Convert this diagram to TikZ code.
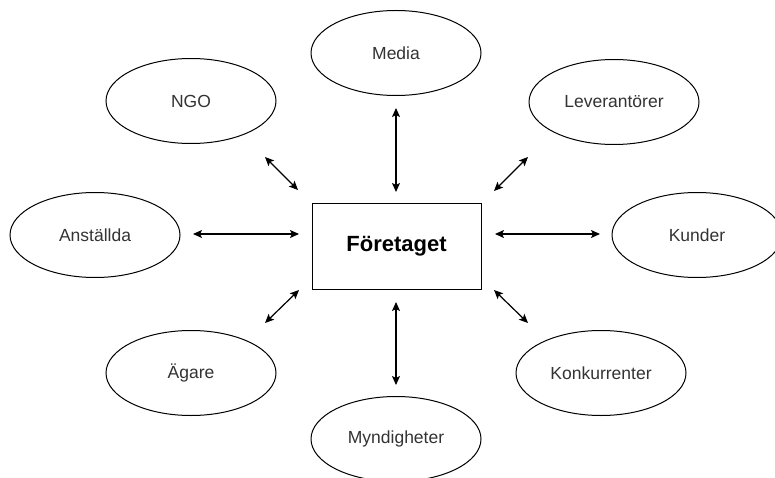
\documentclass[tikz,border=0pt]{standalone}
\usepackage{fontspec}
\setmainfont{Liberation Sans}
\usetikzlibrary{shapes.geometric,arrows.meta}
\definecolor{txt}{HTML}{333333}
\tikzset{
  party/.style={draw=black, line width=1pt, ellipse, minimum width=170pt, minimum height=85pt, inner sep=0pt, text=txt, font=\fontsize{17.5}{20}\selectfont},
  firm/.style={draw=black, line width=1pt, rectangle, minimum width=169pt, minimum height=85pt, inner sep=0pt, text=black, font=\fontsize{22}{26}\selectfont\bfseries},
  link/.style={line width=1.2pt, {Stealth[length=9pt,width=8pt,inset=2pt]}-{Stealth[length=9pt,width=8pt,inset=2pt]}}
}
\begin{document}
\begin{tikzpicture}[x=1pt,y=-1pt]
\fill[white] (0,0) rectangle (775,478);
\useasboundingbox (0,0) rectangle (775,478);
\node[firm] (f) at (396.5,246.5) {Företaget};
\node[party] (media) at (396,53) {Media};
\node[party] (ngo) at (191,101) {NGO};
\node[party] (lev) at (614,102) {Leverantörer};
\node[party] (anst) at (95,235) {Anställda};
\node[party] (kund) at (697,235) {Kunder};
\node[party] (agare) at (191,373) {Ägare};
\node[party] (konk) at (601,373) {Konkurrenter};
\node[party] (mynd) at (396,439) {Myndigheter};
% arrow end points
\coordinate (mediaA) at (396,108); \coordinate (mediaB) at (396,192);
\coordinate (ngoA) at (265,157);   \coordinate (ngoB) at (298,190);
\coordinate (levA) at (528,157);   \coordinate (levB) at (494,191);
\coordinate (anstA) at (193,234);  \coordinate (anstB) at (299,234);
\coordinate (kundA) at (600,234);  \coordinate (kundB) at (495,234);
\coordinate (agareA) at (265,323); \coordinate (agareB) at (299,290);
\coordinate (konkA) at (528,323);  \coordinate (konkB) at (494,290);
\coordinate (myndA) at (396,385);  \coordinate (myndB) at (396,302);
\foreach \n in {media,ngo,lev,anst,kund,agare,konk,mynd}
  \draw[link] (\n A) -- (\n B);
\end{tikzpicture}
\end{document}
